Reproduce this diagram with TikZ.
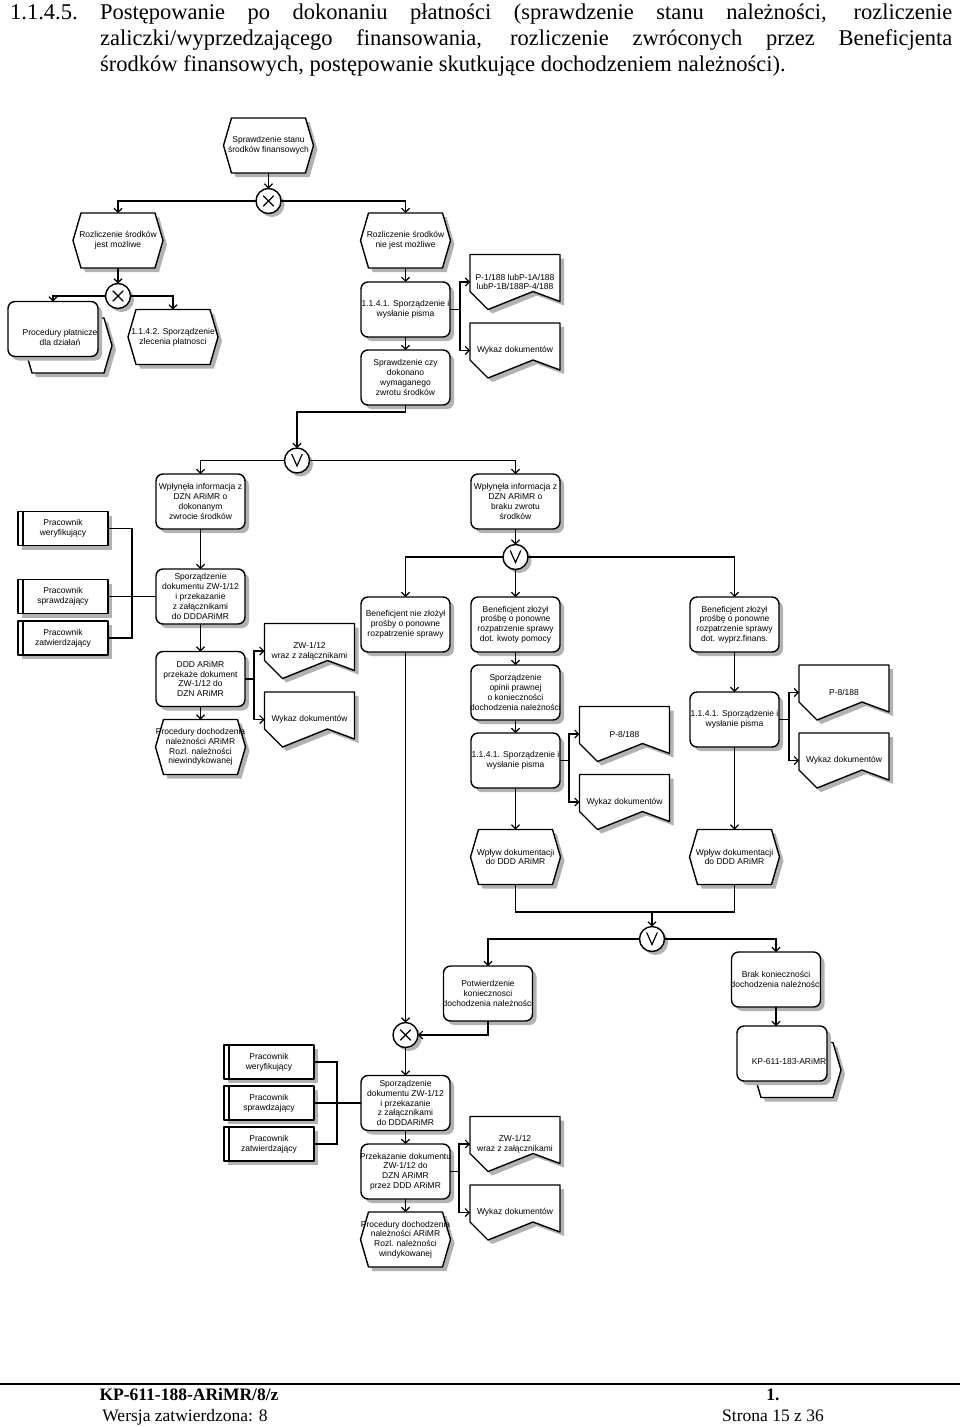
\documentclass[tikz,border=0pt]{standalone}
\usepackage{fontspec}
\setmainfont{Liberation Serif}
\newfontfamily\diagfont{Liberation Sans}
\usetikzlibrary{arrows.meta,calc}
\pgfdeclarelayer{shadowlayer}
\pgfdeclarelayer{shapelayer}
\pgfsetlayers{shadowlayer,shapelayer,main}
\definecolor{shadowgray}{gray}{0.7}
\tikzset{
  lbl/.style={font={\diagfont\fontsize{8.5pt}{9.8pt}\selectfont}, align=center, inner sep=0pt},
  shapebox/.style={minimum width=89pt, minimum height=55pt, inner sep=0pt, outer sep=0pt},
  orgbox/.style={minimum width=90pt, minimum height=34pt, inner sep=0pt, outer sep=0pt},
  gatebox/.style={circle, minimum size=25pt, inner sep=0pt, outer sep=0pt},
  conn/.style={line width=1.2pt, -{Straight Barb[length=4pt,width=8pt,line width=1.1pt]}},
  connplain/.style={line width=1.2pt},
  outline/.style={line width=1.4pt, draw=black, fill=white, line join=round},
  shadowfill/.style={fill=shadowgray},
  hdr/.style={font={\fontsize{22.5pt}{26pt}\selectfont}, inner sep=0pt},
  ftr/.style={font={\fontsize{17.5pt}{21pt}\selectfont}, inner sep=0pt},
  ftrb/.style={font={\fontsize{17.5pt}{21pt}\selectfont\bfseries}, inner sep=0pt}
}
% function: rounded rectangle
\newcommand\FuncBox[4]{%
  \node[shapebox] (#1) at (#2,#3) {};
  \node[lbl] (#1-t) at (#1.center) {#4};
  \begin{pgfonlayer}{shadowlayer}
    \fill[shadowfill,rounded corners=7pt] ([shift={(4pt,-4pt)}]#1.south west) rectangle ([shift={(4pt,-4pt)}]#1.north east);
  \end{pgfonlayer}
  \begin{pgfonlayer}{shapelayer}
    \draw[outline,rounded corners=7pt] (#1.south west) rectangle (#1.north east);
  \end{pgfonlayer}}
% event: hexagon
\newcommand\EventHex[4]{%
  \node[shapebox,minimum width=90pt] (#1) at (#2,#3) {};
  \node[lbl] (#1-t) at (#1.center) {#4};
  \begin{pgfonlayer}{shadowlayer}
    \fill[shadowfill] ([shift={(4pt,-4pt)}]#1.west) -- ([shift={(12pt,-4pt)}]#1.north west) -- ([shift={(-4pt,-4pt)}]#1.north east) -- ([shift={(4pt,-4pt)}]#1.east) -- ([shift={(-4pt,-4pt)}]#1.south east) -- ([shift={(12pt,-4pt)}]#1.south west) -- cycle;
  \end{pgfonlayer}
  \begin{pgfonlayer}{shapelayer}
    \draw[outline] (#1.west) -- ([xshift=8pt]#1.north west) -- ([xshift=-8pt]#1.north east) -- (#1.east) -- ([xshift=-8pt]#1.south east) -- ([xshift=8pt]#1.south west) -- cycle;
  \end{pgfonlayer}}
% document
\newcommand\DocShape[4]{%
  \node[shapebox,minimum width=90pt] (#1) at (#2,#3) {};
  \node[lbl] (#1-t) at (#1.center) {#4};
  \begin{pgfonlayer}{shadowlayer}
    \fill[shadowfill] ([shift={(4pt,-4pt)}]#1.north west) -- ([shift={(4pt,-4pt)}]#1.north east) -- ([shift={(4pt,4pt)}]#1.south east) -- ([shift={(67pt,14pt)}]#1.south west) -- ([shift={(22pt,-4pt)}]#1.south west) -- ([shift={(4pt,14pt)}]#1.south west) -- cycle;
  \end{pgfonlayer}
  \begin{pgfonlayer}{shapelayer}
    \draw[outline] (#1.north west) -- (#1.north east) -- ([yshift=8pt]#1.south east) -- ([shift={(63pt,18pt)}]#1.south west) -- ([xshift=18pt]#1.south west) -- ([yshift=18pt]#1.south west) -- cycle;
  \end{pgfonlayer}}
% organisational unit
\newcommand\OrgBox[4]{%
  \node[orgbox] (#1) at (#2,#3) {};
  \node[lbl] (#1-t) at (#1.center) {#4};
  \begin{pgfonlayer}{shadowlayer}
    \fill[shadowfill] ([shift={(4pt,-4pt)}]#1.south west) rectangle ([shift={(4pt,-4pt)}]#1.north east);
  \end{pgfonlayer}
  \begin{pgfonlayer}{shapelayer}
    \draw[outline] (#1.south west) rectangle (#1.north east);
    \draw[line width=1.4pt] ([xshift=5pt]#1.south west) -- ([xshift=5pt]#1.north west);
  \end{pgfonlayer}}
% gateways
\newcommand\GateBase[3]{%
  \node[gatebox] (#1) at (#2,#3) {};
  \begin{pgfonlayer}{shadowlayer}
    \fill[shadowfill] ([shift={(3.5pt,-3.5pt)}]#1.center) circle (12.5pt);
  \end{pgfonlayer}
  \begin{pgfonlayer}{shapelayer}
    \draw[outline] (#1.center) circle (12.5pt);
  \end{pgfonlayer}}
\newcommand\GateX[3]{%
  \GateBase{#1}{#2}{#3}%
  \begin{pgfonlayer}{shapelayer}
    \draw[line width=1.2pt] ([shift={(-5.3pt,5.3pt)}]#1.center) -- ([shift={(5.3pt,-5.3pt)}]#1.center);
    \draw[line width=1.2pt] ([shift={(-5.3pt,-5.3pt)}]#1.center) -- ([shift={(5.3pt,5.3pt)}]#1.center);
  \end{pgfonlayer}}
\newcommand\GateOr[3]{%
  \GateBase{#1}{#2}{#3}%
  \begin{pgfonlayer}{shapelayer}
    \draw[line width=1.2pt,line join=miter] ([shift={(-5.3pt,6.5pt)}]#1.center) -- ([shift={(0pt,-5.5pt)}]#1.center) -- ([shift={(5.3pt,6.5pt)}]#1.center);
  \end{pgfonlayer}}
% process interface: hexagon behind, rounded rectangle in front
\newcommand\ProcIf[4]{%
  \node[shapebox,minimum width=90pt] (#1) at (#2,#3) {};
  \node[shapebox,minimum width=88pt] (#1-b) at ($(#1.center)+(15pt,-16.5pt)$) {};
  \node[lbl] (#1-t) at ($(#1.center)+(7pt,-8.25pt)$) {#4};
  \begin{pgfonlayer}{shadowlayer}
    \fill[shadowfill] ([shift={(4pt,-4pt)}]#1-b.west) -- ([shift={(12pt,-4pt)}]#1-b.north west) -- ([shift={(-4pt,-4pt)}]#1-b.north east) -- ([shift={(4pt,-4pt)}]#1-b.east) -- ([shift={(-4pt,-4pt)}]#1-b.south east) -- ([shift={(12pt,-4pt)}]#1-b.south west) -- cycle;
  \end{pgfonlayer}
  \begin{pgfonlayer}{shapelayer}
    \draw[outline] (#1-b.west) -- ([xshift=8pt]#1-b.north west) -- ([xshift=-8pt]#1-b.north east) -- (#1-b.east) -- ([xshift=-8pt]#1-b.south east) -- ([xshift=8pt]#1-b.south west) -- cycle;
    \fill[shadowfill,rounded corners=7pt] ([shift={(4pt,-4pt)}]#1.south west) rectangle ([shift={(4pt,-4pt)}]#1.north east);
    \draw[outline,rounded corners=7pt] (#1.south west) rectangle (#1.north east);
  \end{pgfonlayer}}
\begin{document}
\begin{tikzpicture}[x=1pt,y=-1pt]
\begin{pgfonlayer}{shadowlayer}
  \fill[white] (0,0) rectangle (960,1427);
\end{pgfonlayer}
\useasboundingbox (0,0) rectangle (960,1427);

% ---------- header ----------
\node[hdr,anchor=base west] (h0) at (10,19) {1.1.4.5.};
\node[hdr,anchor=base west] (h1) at (100,19) {\makebox[852pt][s]{Postępowanie po dokonaniu płatności (sprawdzenie stanu należności, rozliczenie}};
\node[hdr,anchor=base west] (h2) at (100,45) {\makebox[852pt][s]{zaliczki/wyprzedzającego finansowania, rozliczenie zwróconych przez Beneficjenta}};
\node[hdr,anchor=base west] (h3) at (100,71.5) {środków finansowych, postępowanie skutkujące dochodzeniem należności).};

% ---------- shapes ----------
\EventHex{e1}{268.5}{145.5}{Sprawdzenie stanu\\środków finansowych}
\GateX{g1}{268.5}{201}
\EventHex{e2}{118}{240.5}{Rozliczenie środków\\jest możliwe}
\EventHex{e3}{405.5}{240.5}{Rozliczenie środków\\nie jest możliwe}
\GateX{g2}{118}{296}
\ProcIf{p1}{53}{329}{Procedury płatnicze\\dla działań}
\EventHex{e4}{173}{337}{1.1.4.2. Sporządzenie\\zlecenia płatnosci}
\FuncBox{f1}{405.5}{309.5}{1.1.4.1. Sporządzenie i\\wysłanie pisma}
\DocShape{d1}{515}{282}{P-1/188 lubP-1A/188\\lubP-1B/188P-4/188}
\DocShape{d2}{515}{350.5}{Wykaz dokumentów}
\FuncBox{f2}{405.5}{377.5}{Sprawdzenie czy\\dokonano\\wymaganego\\zwrotu środków}
\GateOr{g3}{297}{460.5}
\FuncBox{f3}{200.5}{501.5}{Wpłynęła informacja z\\DZN ARiMR o\\dokonanym\\zwrocie środków}
\FuncBox{f4}{515.5}{501.5}{Wpłynęła informacja z\\DZN ARiMR o\\braku zwrotu\\środków}
\OrgBox{o1}{63}{528.5}{Pracownik\\weryfikujący}
\OrgBox{o2}{63}{596.5}{Pracownik\\sprawdzający}
\OrgBox{o3}{63}{638}{Pracownik\\zatwierdzający}
\FuncBox{f5}{200.5}{596.5}{Sporządzenie\\dokumentu ZW-1/12\\i przekazanie\\z załącznikami\\do DDDARiMR}
\FuncBox{f6}{200.5}{679}{DDD ARiMR\\przekaże dokument\\ZW-1/12 do\\DZN ARiMR}
\DocShape{d3}{309.5}{651}{ZW-1/12\\wraz z załącznikami}
\DocShape{d4}{309.5}{719.5}{Wykaz dokumentów}
\EventHex{e5}{200.5}{747}{Procedury dochodzenia\\należności ARiMR\\Rozl. należności\\niewindykowanej}
\GateOr{g4}{515.5}{557}
\FuncBox{f7}{405.5}{624.5}{Beneficjent nie złożył\\prośby o ponowne\\rozpatrzenie sprawy}
\FuncBox{f8}{515.5}{624.5}{Beneficjent złożył\\prośbę o ponowne\\rozpatrzenie sprawy\\dot. kwoty pomocy}
\FuncBox{f9}{734.5}{624.5}{Beneficjent złożył\\prośbę o ponowne\\rozpatrzenie sprawy\\dot. wyprz.finans.}
\FuncBox{f10}{515.5}{692.5}{Sporządzenie\\opinii prawnej\\o konieczności\\dochodzenia należności}
\FuncBox{f11}{515.5}{760.5}{1.1.4.1. Sporządzenie i\\wysłanie pisma}
\DocShape{d5}{624.5}{734}{P-8/188}
\DocShape{d6}{624.5}{802}{Wykaz dokumentów}
\FuncBox{f12}{734.5}{719.5}{1.1.4.1. Sporządzenie i\\wysłanie pisma}
\DocShape{d7}{844}{692.5}{P-8/188}
\DocShape{d8}{844}{760.5}{Wykaz dokumentów}
\EventHex{e6}{515.5}{857}{Wpływ dokumentacji\\do DDD ARiMR}
\EventHex{e7}{734.5}{857}{Wpływ dokumentacji\\do DDD ARiMR}
\GateOr{g5}{652}{939}
\FuncBox{f13}{488}{993.5}{Potwierdzenie\\koniecznosci\\dochodzenia należności}
\FuncBox{f14}{776}{979.5}{Brak konieczności\\dochodzenia należności}
\ProcIf{p2}{782}{1053.5}{KP-611-183-ARiMR}
\GateX{g6}{405.5}{1035}
\OrgBox{o4}{269}{1062}{Pracownik\\weryfikujący}
\OrgBox{o5}{269}{1103}{Pracownik\\sprawdzający}
\OrgBox{o6}{269}{1144}{Pracownik\\zatwierdzający}
\FuncBox{f15}{405.5}{1103}{Sporządzenie\\dokumentu ZW-1/12\\i przekazanie\\z załącznikami\\do DDDARiMR}
\FuncBox{f16}{405.5}{1171.5}{Przekazanie dokumentu\\ZW-1/12 do\\DZN ARiMR\\przez DDD ARiMR}
\DocShape{d9}{515}{1144}{ZW-1/12\\wraz z załącznikami}
\DocShape{d10}{515}{1212.5}{Wykaz dokumentów}
\EventHex{e8}{405.5}{1239.5}{Procedury dochodzenia\\należności ARiMR\\Rozl. należności\\windykowanej}

% ---------- junction points ----------
\coordinate (j1) at (460,309.5);
\coordinate (c1) at (405.5,412);
\coordinate (j2) at (132,528.5);
\coordinate (j3) at (254,679);
\coordinate (j4) at (569,760.5);
\coordinate (j5) at (789,719.5);
\coordinate (c2) at (515.5,912);
\coordinate (c3) at (734.5,912);
\coordinate (c4) at (652,912);
\coordinate (j6) at (337,1062);
\coordinate (j7) at (459,1171.5);

% ---------- connectors ----------
\draw[conn] (e1.south) -- (g1.north);
\draw[conn] (g1.west) -| (e2.north);
\draw[conn] (g1.east) -| (e3.north);
\draw[conn] (e2.south) -- (g2.north);
\draw[conn] (g2.west) -| (p1.north);
\draw[conn] (g2.east) -| (e4.north);
\draw[conn] (e3.south) -- (f1.north);
\draw[connplain] (f1.east) -- (j1);
\draw[conn] (j1) |- (d1.west);
\draw[conn] (j1) |- (d2.west);
\draw[conn] (f1.south) -- (f2.north);
\draw[conn] (f2.south) -- (c1) -| (g3.north);
\draw[conn] (g3.west) -| (f3.north);
\draw[conn] (g3.east) -| (f4.north);
\draw[conn] (f3.south) -- (f5.north);
\draw[connplain] (o1.east) -- (j2) |- (o3.east);
\draw[connplain] (o2.east) -- (f5.west);
\draw[conn] (f5.south) -- (f6.north);
\draw[connplain] (f6.east) -- (j3);
\draw[conn] (j3) |- (d3.west);
\draw[conn] (j3) |- (d4.west);
\draw[conn] (f6.south) -- (e5.north);
\draw[conn] (f4.south) -- (g4.north);
\draw[conn] (g4.west) -| (f7.north);
\draw[conn] (g4.south) -- (f8.north);
\draw[conn] (g4.east) -| (f9.north);
\draw[conn] (f8.south) -- (f10.north);
\draw[conn] (f10.south) -- (f11.north);
\draw[connplain] (f11.east) -- (j4);
\draw[conn] (j4) |- (d5.west);
\draw[conn] (j4) |- (d6.west);
\draw[conn] (f9.south) -- (f12.north);
\draw[connplain] (f12.east) -- (j5);
\draw[conn] (j5) |- (d7.west);
\draw[conn] (j5) |- (d8.west);
\draw[conn] (f11.south) -- (e6.north);
\draw[conn] (f12.south) -- (e7.north);
\draw[connplain] (e6.south) -- (c2) -- (c3) -- (e7.south);
\draw[conn] (c4) -- (g5.north);
\draw[conn] (g5.west) -| (f13.north);
\draw[conn] (g5.east) -| (f14.north);
\draw[conn] (f7.south) -- (g6.north);
\draw[conn] (f13.south) |- (g6.east);
\draw[conn] (f14.south) -- (f14.south |- p2.north);
\draw[conn] (g6.south) -- (f15.north);
\draw[connplain] (o4.east) -- (j6) |- (o6.east);
\draw[connplain] (o5.east) -- (f15.west);
\draw[conn] (f15.south) -- (f16.north);
\draw[connplain] (f16.east) -- (j7);
\draw[conn] (j7) |- (d9.west);
\draw[conn] (j7) |- (d10.west);
\draw[conn] (f16.south) -- (e8.north);

% ---------- footer ----------
\draw[line width=1.3pt] (0,1384) coordinate (r0) -- (960,1384) coordinate (r1);
\node[ftrb,anchor=base] (ft1) at (189,1400) {KP-611-188-ARiMR/8/z};
\node[ftr,anchor=base] (ft2) at (185,1421) {Wersja zatwierdzona: 8};
\node[ftrb,anchor=base] (ft3) at (773,1400) {1.};
\node[ftr,anchor=base] (ft4) at (773,1421) {Strona 15 z 36};
\end{tikzpicture}
\end{document}
